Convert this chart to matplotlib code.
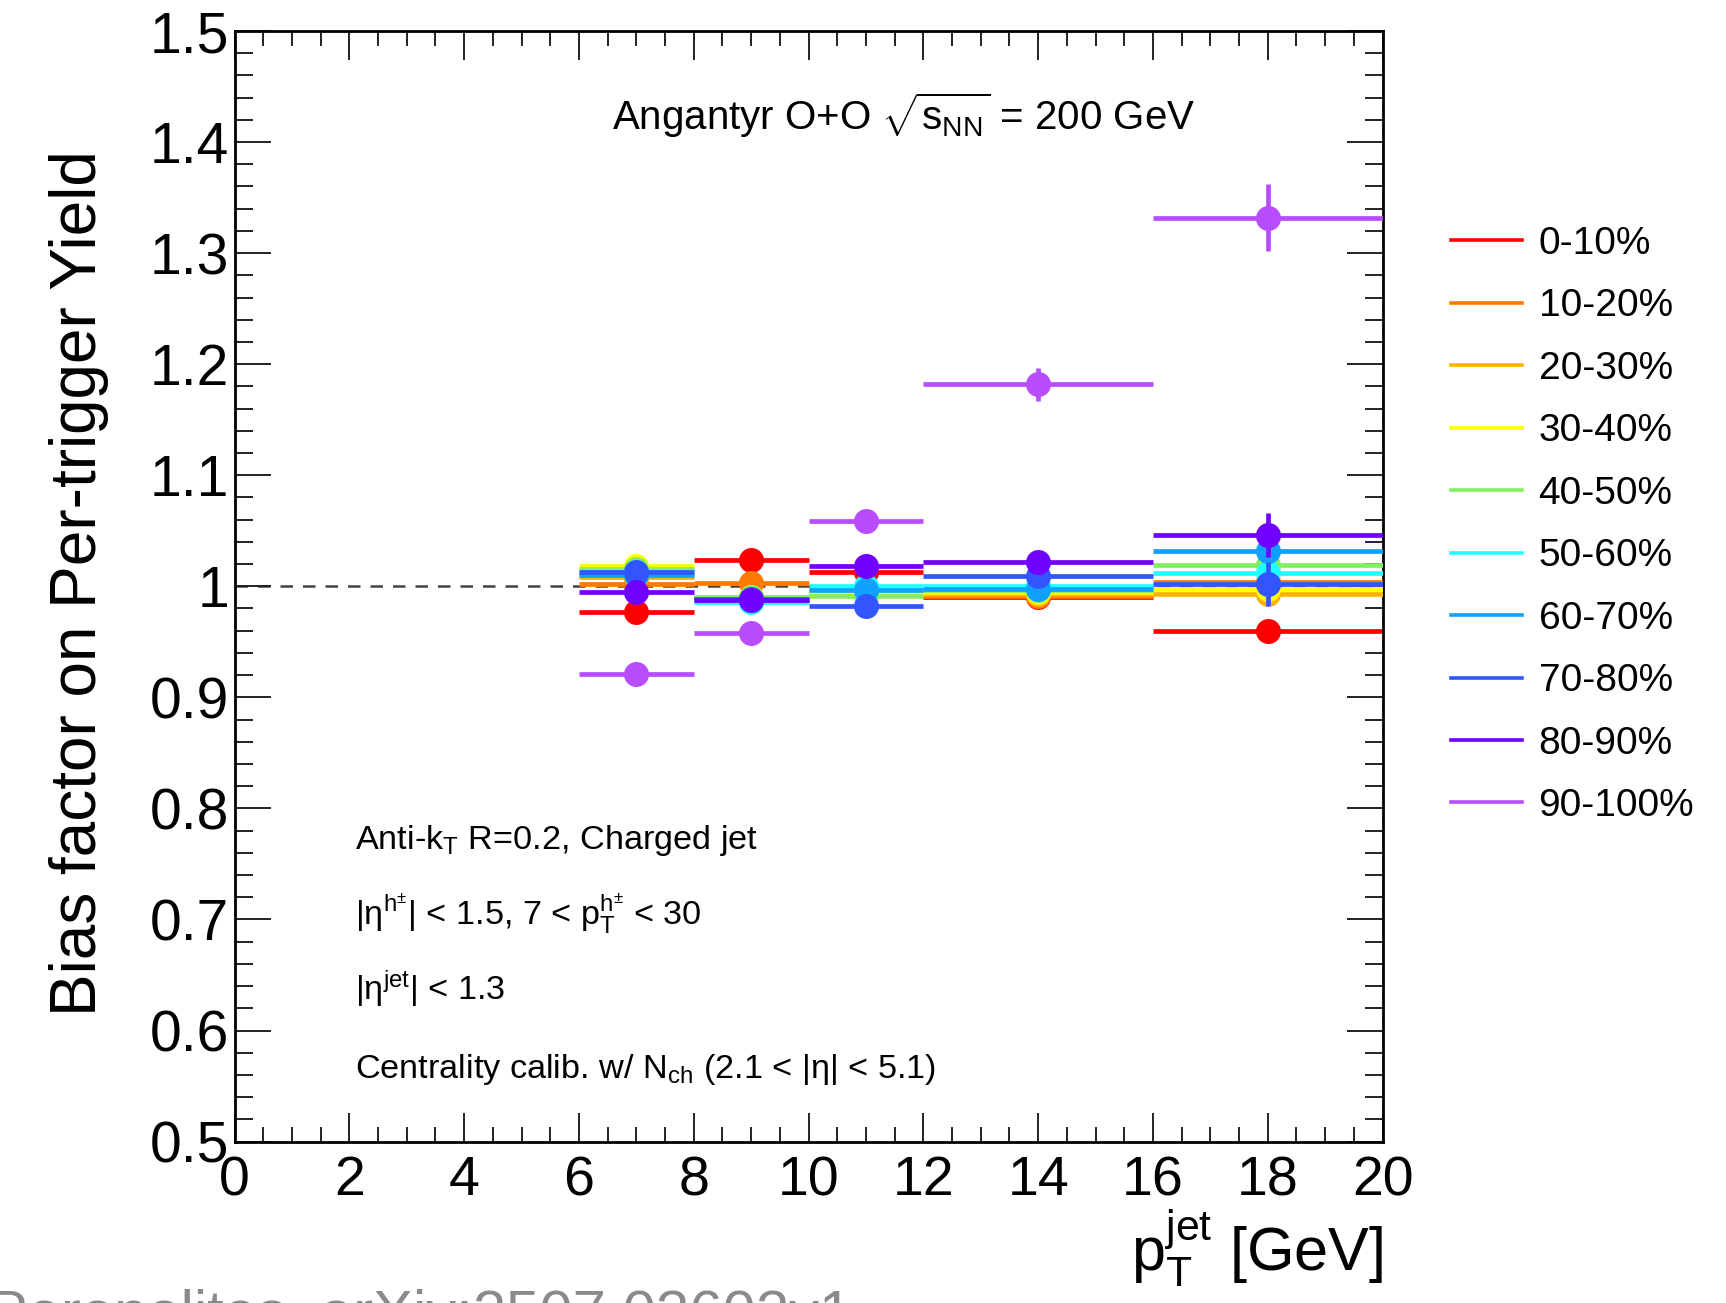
import matplotlib
matplotlib.use("Agg")
import matplotlib.pyplot as plt
from matplotlib.lines import Line2D
from matplotlib.ticker import MultipleLocator, FuncFormatter
import numpy as np

plt.rcParams['font.family'] = ['Liberation Sans', 'DejaVu Sans']
plt.rcParams['mathtext.fontset'] = 'custom'
plt.rcParams['mathtext.rm'] = 'Liberation Sans'
plt.rcParams['mathtext.it'] = 'Liberation Sans'
plt.rcParams['mathtext.bf'] = 'Liberation Sans:bold'
plt.rcParams['mathtext.sf'] = 'Liberation Sans'

# ---- data ----
bin_lo = [6, 8, 10, 12, 16]
bin_hi = [8, 10, 12, 16, 20]
bin_center = [7, 9, 11, 14, 18]

labels = ["0-10%", "10-20%", "20-30%", "30-40%", "40-50%",
          "50-60%", "60-70%", "70-80%", "80-90%", "90-100%"]
colors = ["#ff0000", "#ff7a00", "#ffb300", "#ffff00", "#80f060",
          "#20ffff", "#10a0ff", "#3355ff", "#7000ff", "#b84cff"]

c0_10 = [0.977, 1.024, 1.013, 0.990, 0.960]
c10_20 = [1.002, 1.003, 0.997, 0.991, 1.004]
c20_30 = [1.008, 0.990, 0.995, 0.993, 0.993]
c30_40 = [1.018, 0.990, 0.994, 0.995, 0.998]
c40_50 = [1.016, 0.990, 0.991, 0.997, 1.019]
c50_60 = [1.013, 0.986, 1.000, 1.000, 1.012]
c60_70 = [1.010, 0.988, 0.997, 0.998, 1.032]
c70_80 = [1.013, 0.989, 0.982, 1.009, 1.002]
c80_90 = [0.995, 0.988, 1.018, 1.022, 1.046]
c90_100 = [0.921, 0.958, 1.059, 1.182, 1.332]

e0_10 = [0.003, 0.003, 0.004, 0.005, 0.006]
e10_20 = [0.003, 0.003, 0.004, 0.005, 0.008]
e20_30 = [0.003, 0.003, 0.004, 0.005, 0.010]
e30_40 = [0.003, 0.003, 0.004, 0.005, 0.010]
e40_50 = [0.003, 0.003, 0.004, 0.005, 0.012]
e50_60 = [0.003, 0.003, 0.004, 0.005, 0.012]
e60_70 = [0.003, 0.003, 0.004, 0.006, 0.015]
e70_80 = [0.003, 0.003, 0.004, 0.006, 0.020]
e80_90 = [0.003, 0.003, 0.004, 0.007, 0.020]
e90_100 = [0.004, 0.004, 0.007, 0.015, 0.030]

values = [c0_10, c10_20, c20_30, c30_40, c40_50, c50_60, c60_70, c70_80, c80_90, c90_100]
errors = [e0_10, e10_20, e20_30, e30_40, e40_50, e50_60, e60_70, e70_80, e80_90, e90_100]

# ---- figure ----
fig = plt.figure(figsize=(17.26, 13.03), dpi=100)
ax = fig.add_axes([0.1359, 0.1239, 0.6651, 0.8523])
ax.set_xlim(0, 20)
ax.set_ylim(0.5, 1.5)

ax.axhline(1.0, color="#444444", lw=1.8, ls=(0, (5, 4)), zorder=1)

xc = np.array(bin_center, dtype=float)
xerr = np.vstack([xc - np.array(bin_lo), np.array(bin_hi) - xc])
for i, (vals, errs, col) in enumerate(zip(values, errors, colors)):
    ax.errorbar(xc, vals, xerr=xerr, yerr=errs, fmt='o', color=col,
                ms=18, elinewidth=3.4, capsize=0, mew=0, zorder=2 + i)

ax.xaxis.set_major_locator(MultipleLocator(2))
ax.xaxis.set_minor_locator(MultipleLocator(0.5))
ax.yaxis.set_major_locator(MultipleLocator(0.1))
ax.yaxis.set_minor_locator(MultipleLocator(0.02))


def yfmt(v, pos):
    if abs(v - 1.0) < 1e-9:
        return "1"
    return "%.1f" % v


ax.yaxis.set_major_formatter(FuncFormatter(yfmt))
ax.xaxis.set_major_formatter(FuncFormatter(lambda v, p: "%d" % round(v)))

ax.tick_params(which='both', direction='in', top=True, right=True, width=1.4, color="#222222")
ax.tick_params(axis='x', which='major', length=21, labelsize=40, pad=10)
ax.tick_params(axis='x', which='minor', length=10.5)
ax.tick_params(axis='y', which='major', length=26, labelsize=41, pad=4)
ax.tick_params(axis='y', which='minor', length=13)
for sp in ax.spines.values():
    sp.set_linewidth(2.0)

# axis titles
fig.text(79 / 1726, 1 - 583 / 1303, "Bias factor on Per-trigger Yield",
         rotation=90, ha='center', va='center', fontsize=46)
fig.text(1383 / 1726, 1 - 1271 / 1303, r"$\mathrm{p_{T}^{jet}}$ [GeV]",
         ha='right', va='baseline', fontsize=44)

# annotations
fig.text(904 / 1726, 1 - 130 / 1303, r"Angantyr O+O $\sqrt{\mathrm{s_{NN}}}$ = 200 GeV",
         ha='center', va='baseline', fontsize=29)

xl = 355 / 1726
fs = 24.7
fig.text(xl, 1 - 849 / 1303, r"Anti-k$_\mathrm{T}$ R=0.2, Charged jet", fontsize=fs, va='baseline')
fig.text(xl, 1 - 925 / 1303, r"|$\mathrm{\eta^{h^{\pm}}}$| < 1.5, 7 < $\mathrm{p_{T}^{h^{\pm}}}$ < 30",
         fontsize=fs, va='baseline')
fig.text(xl, 1 - 1000 / 1303, r"|$\mathrm{\eta^{jet}}$| < 1.3", fontsize=fs, va='baseline')
fig.text(xl, 1 - 1078 / 1303, r"Centrality calib. w/ N$_\mathrm{ch}$ (2.1 < |$\mathrm{\eta}$| < 5.1)",
         fontsize=fs, va='baseline')

# legend
handles = [Line2D([], [], color=c, lw=2.6) for c in colors]
fig.legend(handles, labels, loc='upper left',
           bbox_to_anchor=(1451 / 1726, 1 - 226 / 1303), frameon=False,
           fontsize=28, handlelength=1.83, handletextpad=0.42,
           labelspacing=0.68, borderpad=0, borderaxespad=0)

# cut-off source caption
fig.text(-0.007, -0.022, "Peronolites, arXiv:2507.03602v1", fontsize=43,
         color="#8a8a8a", ha='left', va='baseline')

fig.savefig("out.png", dpi=100)
